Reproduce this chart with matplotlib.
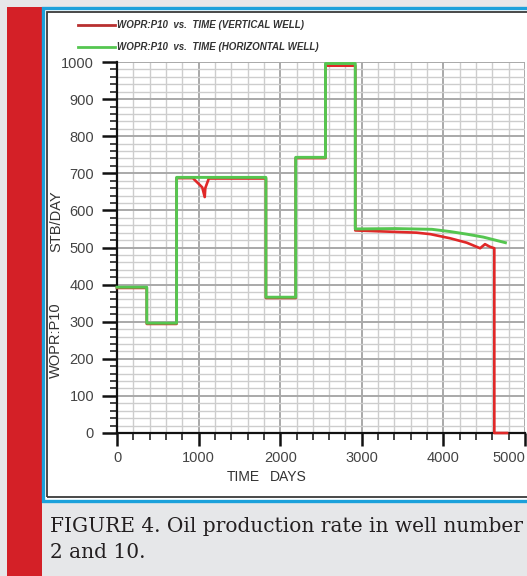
import matplotlib
matplotlib.use('Agg')
import matplotlib.pyplot as plt
from matplotlib.patches import Rectangle
from matplotlib.lines import Line2D
from matplotlib.ticker import MultipleLocator

# well P10 oil rate, horizontal completion
days_hor = [0, 365, 365, 730, 730, 1825, 1825, 2190, 2190, 2555, 2555, 2920, 2920,
            3410, 3860, 4080, 4285, 4490, 4760]
wopr_hor = [393, 393, 296, 296, 689, 689, 366, 366, 743, 743, 996, 996, 550,
            551, 549, 543, 536, 528, 513]

# well P10 oil rate, vertical completion
days_ver = [0, 365, 365, 730, 730, 930, 1045, 1075, 1082, 1125, 1825, 1825, 2190, 2190,
            2555, 2555, 2920, 2920, 3670, 3840, 4080, 4285, 4450, 4510, 4570, 4624,
            4624, 4780]
wopr_ver = [391, 391, 294, 294, 687, 687, 662, 636, 660, 686, 686, 364, 364, 741,
            741, 990, 990, 546, 540, 536, 525, 513, 498, 509, 502, 498,
            0, 0]

time_ticks = [0, 1000, 2000, 3000, 4000, 5000]
legend_labels = ['WOPR:P10  vs.  TIME (VERTICAL WELL)',
                 'WOPR:P10  vs.  TIME (HORIZONTAL WELL)']
caption = ['FIGURE 4. Oil production rate in well number', '2 and 10.']

W, H = 527, 576
sans = ['Liberation Sans', 'DejaVu Sans']
serif = ['DejaVu Serif']


def fx(x):
    return x / W


def fy(y):
    return 1 - y / H


fig = plt.figure(figsize=(W / 100, H / 100), dpi=100)
fig.patch.set_facecolor('#e6e7e9')

# page furniture: red side bar, blue box, inner dark frame
fig.patches.append(Rectangle((fx(7), 0), fx(35), fy(7), transform=fig.transFigure,
                             facecolor='#d42027', edgecolor='none', zorder=0))
fig.patches.append(Rectangle((fx(43), fy(500.5)), fx(500), fy(8.5) - fy(500.5),
                             transform=fig.transFigure, facecolor='white',
                             edgecolor='#1ba1db', lw=2.4, zorder=0))
fig.patches.append(Rectangle((fx(46.5), fy(496.5)), fx(500), fy(11.5) - fy(496.5),
                             transform=fig.transFigure, facecolor='none',
                             edgecolor='#3a3a3a', lw=1.3, zorder=1))

ax = fig.add_axes([fx(117), fy(433), fx(525 - 117), fy(62) - fy(433)], zorder=3)
ax.set_facecolor('white')
ax.set_xlim(0, 5000)
ax.set_ylim(0, 1000)

ax.set_xticks(time_ticks, [str(t) for t in time_ticks])
ax.xaxis.set_minor_locator(MultipleLocator(200))
ax.yaxis.set_major_locator(MultipleLocator(100))
ax.yaxis.set_minor_locator(MultipleLocator(20))

ax.grid(which='minor', color='#cdcdcd', lw=1.0)
ax.grid(which='major', color='#a9a9a9', lw=1.4)
ax.set_axisbelow(True)

for s in ('top', 'right'):
    ax.spines[s].set_visible(False)
for s in ('left', 'bottom'):
    ax.spines[s].set_linewidth(1.6)
    ax.spines[s].set_color('#111111')

ax.tick_params(which='major', direction='out', length=9, width=1.8, color='#111111',
               labelsize=10.5, labelcolor='#444444')
ax.tick_params(which='minor', direction='out', length=5, width=1.1, color='#111111')
ax.tick_params(axis='y', which='major', length=10.5, pad=6)
ax.tick_params(axis='x', which='major', pad=4)
for lab in ax.get_xticklabels() + ax.get_yticklabels():
    lab.set_family(sans)
# last time label sits inside the right edge
ax.get_xticklabels()[-1].set_horizontalalignment('right')

ax.plot(days_ver, wopr_ver, color='#e02828', lw=1.9, clip_on=False, zorder=3)
ax.plot(days_hor, wopr_hor, color='#55c650', lw=2.1, clip_on=False, zorder=4)

# axis titles
fig.text(fx(56), fy(221), 'STB/DAY', rotation=90, ha='center', va='center',
         fontsize=10.5, color='#333333', family=sans, zorder=4)
fig.text(fx(56), fy(340), 'WOPR:P10', rotation=90, ha='center', va='center',
         fontsize=10.5, color='#333333', family=sans, zorder=4)
fig.text(fx(243), fy(477), 'TIME', ha='center', va='center',
         fontsize=10, color='#333333', family=sans, zorder=4)
fig.text(fx(288), fy(477), 'DAYS', ha='center', va='center',
         fontsize=10, color='#333333', family=sans, zorder=4)

# key
for i, (lab, col) in enumerate(zip(legend_labels, ['#b83030', '#55c650'])):
    yy = fy(25 + 22 * i)
    fig.add_artist(Line2D([fx(78), fx(115)], [yy, yy], color=col, lw=2.0,
                          transform=fig.transFigure, zorder=4))
    fig.text(fx(117), yy, lab, ha='left', va='center', fontsize=7,
             style='italic', weight='bold', color='#333333', family=sans, zorder=4)

# caption
fig.text(fx(50), fy(527), caption[0], ha='left', va='center', fontsize=14.5,
         color='#231f20', family=serif)
fig.text(fx(50), fy(553), caption[1], ha='left', va='center', fontsize=14.5,
         color='#231f20', family=serif)

fig.savefig('out.png', dpi=100, facecolor=fig.get_facecolor())
